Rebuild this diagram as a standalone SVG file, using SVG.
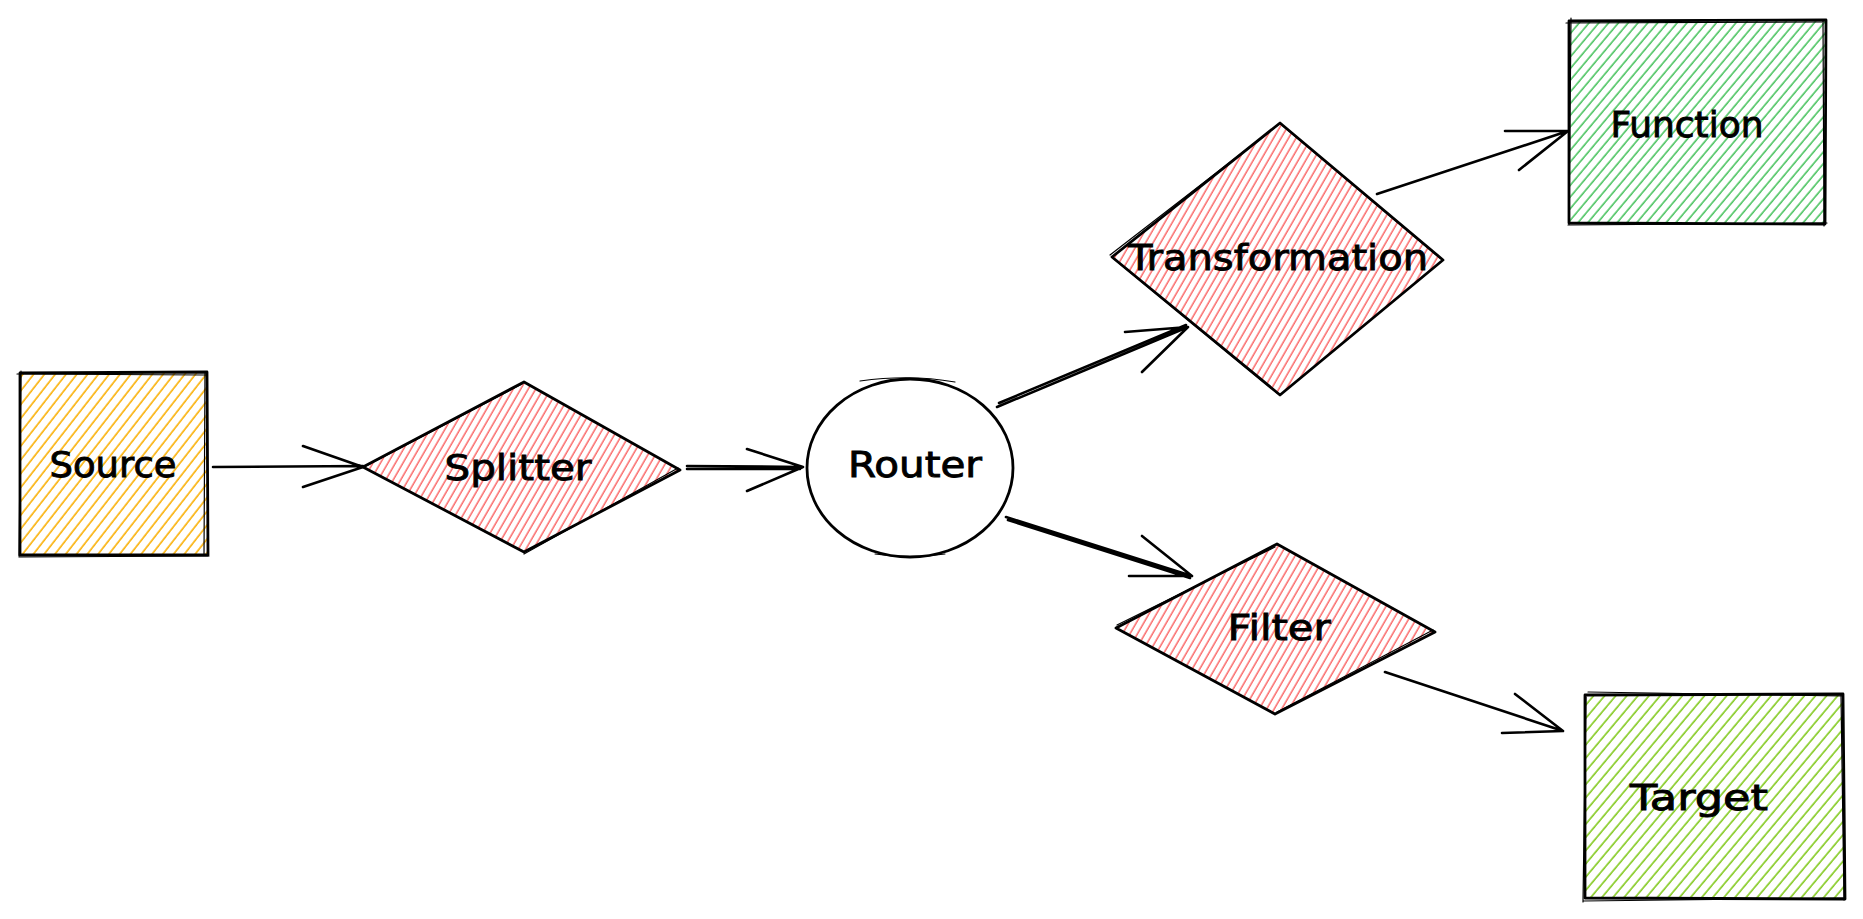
<svg xmlns="http://www.w3.org/2000/svg" width="1863" height="919" viewBox="0 0 1863 919">
<style>
.o{fill:none;stroke:#000;stroke-width:2.8;stroke-linecap:round;stroke-linejoin:round}
.o2{fill:none;stroke:#000;stroke-width:1.2;stroke-linecap:round}
.c{fill:none;stroke:#000;stroke-width:2.6;stroke-linecap:round;stroke-linejoin:round}
.t{font-family:"DejaVu Sans","Liberation Sans",sans-serif;font-size:36px;fill:#000;stroke:#000;stroke-width:0.9;text-anchor:middle}
</style>
<defs>
<pattern id="hO" patternUnits="userSpaceOnUse" width="8.5" height="8.5" patternTransform="rotate(38)"><line x1="2" y1="0" x2="2" y2="9" stroke="#fab005" stroke-width="1.6"/></pattern>
<pattern id="hR" patternUnits="userSpaceOnUse" width="6.5" height="6.5" patternTransform="rotate(30)"><line x1="2" y1="0" x2="2" y2="7" stroke="#fa5252" stroke-width="1.3"/></pattern>
<pattern id="hG" patternUnits="userSpaceOnUse" width="7.5" height="7.5" patternTransform="rotate(40)"><line x1="2" y1="0" x2="2" y2="8" stroke="#40c057" stroke-width="1.5"/></pattern>
<pattern id="hL" patternUnits="userSpaceOnUse" width="8.5" height="8.5" patternTransform="rotate(40)"><line x1="2" y1="0" x2="2" y2="9" stroke="#82c91e" stroke-width="1.6"/></pattern>
</defs>

<g id="connectors">
<path class="c" d="M213 467 L363 466 M303 446 L363 467 L303 487"/>
<path class="c" d="M687 466 L803 467 M687 469 L800 469 M747 449 L803 467 L747 491"/>
<path class="c" d="M997 407 L1188 327 M999 403 L1186 325 M1125 332 L1188 327 L1142 372"/>
<path class="c" d="M1377 194 L1568 131 M1505 131 L1568 131 L1519 170"/>
<path class="c" d="M1006 517 L1192 576 M1008 520 L1190 578 M1142 536 L1192 576 L1129 576"/>
<path class="c" d="M1385 672 L1563 731 M1515 694 L1563 731 L1502 733"/>
</g>

<g id="source">
<rect x="20" y="373" width="187" height="182" fill="url(#hO)"/>
<path class="o" d="M20 373 L207 372 L208 555 L20 555 Z"/>
<path class="o2" d="M17 374 L206 375 M205 372 L204 556 M19 557 L209 556 M21 371 L19 556"/>
<text class="t" x="113" y="477" textLength="127" lengthAdjust="spacingAndGlyphs">Source</text>
</g>

<g id="splitter">
<path d="M363 467 L524 382 L680 470 L524 552 Z" fill="url(#hR)"/>
<path class="o" d="M363 467 L524 382 L680 470 L524 552 Z"/>
<path class="o2" d="M366 466 L522 384 M524 554 L678 468"/>
<text class="t" x="518" y="480" textLength="147" lengthAdjust="spacingAndGlyphs">Splitter</text>
</g>

<g id="router">
<ellipse cx="910" cy="468" rx="103" ry="89" class="o"/>
<path class="o2" d="M860 381 Q910 374 955 382 M875 554 Q910 559 945 554"/>
<text class="t" x="915" y="477" textLength="134" lengthAdjust="spacingAndGlyphs">Router</text>
</g>

<g id="transformation">
<path d="M1112 257 L1280 123 L1443 260 L1280 395 Z" fill="url(#hR)"/>
<path class="o" d="M1112 257 L1280 123 L1443 260 L1280 395 Z"/>
<path class="o2" d="M1110 255 L1278 125 M1440 258 L1283 126 M1114 259 L1277 393"/>
<text class="t" x="1278" y="270" textLength="300" lengthAdjust="spacingAndGlyphs">Transformation</text>
</g>

<g id="function">
<rect x="1569" y="20" width="257" height="204" fill="url(#hG)"/>
<path class="o" d="M1569 21 L1826 20 L1825 224 L1569 223 Z"/>
<path class="o2" d="M1566 23 L1824 22 M1823 20 L1824 226 M1568 225 L1827 223 M1571 18 L1569 224"/>
<text class="t" x="1687" y="137" textLength="153" lengthAdjust="spacingAndGlyphs">Function</text>
</g>

<g id="filter">
<path d="M1116 628 L1277 544 L1435 632 L1275 714 Z" fill="url(#hR)"/>
<path class="o" d="M1116 628 L1277 544 L1435 632 L1275 714 Z"/>
<path class="o2" d="M1117 625 L1275 547 M1277 712 L1433 630"/>
<text class="t" x="1279" y="640" textLength="103" lengthAdjust="spacingAndGlyphs">Filter</text>
</g>

<g id="target">
<rect x="1585" y="695" width="259" height="204" fill="url(#hL)"/>
<path class="o" d="M1585 695 L1843 694 L1845 899 L1585 898 Z"/>
<path class="o2" d="M1588 692 L1842 696 M1841 695 L1844 900 M1583 901 L1843 898 M1586 697 L1583 902"/>
<text class="t" x="1699" y="810" textLength="138" lengthAdjust="spacingAndGlyphs">Target</text>
</g>
</svg>
